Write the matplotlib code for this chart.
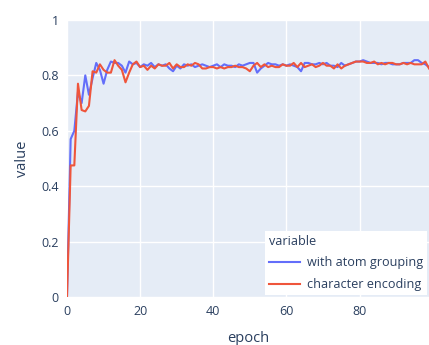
import numpy as np
import matplotlib.pyplot as plt

# Accuracy per epoch for the two encodings
epochs = np.arange(100)

with_atom_grouping = [
    0.0, 0.57, 0.60, 0.74, 0.70, 0.80, 0.73, 0.79, 0.845, 0.82,
    0.77, 0.82, 0.85, 0.845, 0.845, 0.835, 0.81, 0.85, 0.84, 0.845,
    0.83, 0.84, 0.835, 0.845, 0.83, 0.84, 0.835, 0.84, 0.825, 0.815,
    0.835, 0.825, 0.84, 0.835, 0.84, 0.83, 0.835, 0.84, 0.835, 0.83,
    0.835, 0.84, 0.83, 0.84, 0.835, 0.835, 0.83, 0.84, 0.835, 0.84,
    0.845, 0.845, 0.81, 0.825, 0.835, 0.845, 0.84, 0.84, 0.835, 0.84,
    0.835, 0.84, 0.835, 0.83, 0.815, 0.845, 0.845, 0.84, 0.84, 0.845,
    0.84, 0.845, 0.835, 0.835, 0.83, 0.845, 0.835, 0.84, 0.845, 0.85,
    0.85, 0.855, 0.85, 0.845, 0.845, 0.845, 0.84, 0.845, 0.845, 0.84,
    0.84, 0.84, 0.845, 0.845, 0.845, 0.855, 0.855, 0.845, 0.84, 0.83,
]

character_encoding = [
    0.0, 0.475, 0.475, 0.77, 0.675, 0.67, 0.69, 0.815, 0.81, 0.84,
    0.82, 0.81, 0.81, 0.855, 0.835, 0.82, 0.775, 0.81, 0.84, 0.85,
    0.83, 0.835, 0.82, 0.835, 0.825, 0.84, 0.835, 0.835, 0.845, 0.825,
    0.84, 0.83, 0.83, 0.84, 0.835, 0.845, 0.84, 0.825, 0.825, 0.83,
    0.83, 0.825, 0.83, 0.825, 0.83, 0.83, 0.835, 0.83, 0.83, 0.825,
    0.815, 0.835, 0.845, 0.83, 0.84, 0.83, 0.835, 0.83, 0.83, 0.84,
    0.835, 0.835, 0.845, 0.83, 0.845, 0.83, 0.835, 0.84, 0.83, 0.835,
    0.845, 0.835, 0.835, 0.825, 0.84, 0.825, 0.835, 0.84, 0.845, 0.85,
    0.85, 0.85, 0.845, 0.845, 0.85, 0.84, 0.845, 0.84, 0.845, 0.845,
    0.84, 0.84, 0.845, 0.84, 0.845, 0.84, 0.84, 0.84, 0.85, 0.825,
]

x_ticks = [0, 20, 40, 60, 80]
y_ticks = [0, 0.2, 0.4, 0.6, 0.8, 1]
y_tick_labels = ['0', '0.2', '0.4', '0.6', '0.8', '1']

text_color = '#2a3f5f'
plt.rcParams['font.family'] = ['Open Sans', 'DejaVu Sans']

fig = plt.figure(figsize=(4.29, 3.45), dpi=100)
ax = fig.add_axes([67 / 429, 1 - 297 / 345, 1 - 67 / 429, 277 / 345])
ax.set_facecolor('#E5ECF6')

ax.plot(epochs, with_atom_grouping, color='#636EFA', lw=1.5, label='with atom grouping')
ax.plot(epochs, character_encoding, color='#EF553B', lw=1.5, label='character encoding')

ax.set_xlim(0, 99)
ax.set_ylim(0, 1)
ax.set_xticks(x_ticks)
ax.set_yticks(y_ticks)
ax.set_yticklabels(y_tick_labels)
ax.grid(color='white', lw=1)
ax.set_axisbelow(True)
for s in ax.spines.values():
    s.set_visible(False)
ax.tick_params(length=0, labelsize=9, colors=text_color, pad=6)

ax.set_xlabel('epoch', fontsize=10.5, color=text_color, labelpad=9)
ax.set_ylabel('value', fontsize=10.5, color=text_color, labelpad=8)

leg = ax.legend(title='variable', loc='lower right', fontsize=9.1, title_fontsize=9.1,
                frameon=True, fancybox=False, framealpha=1, edgecolor='white',
                borderaxespad=0.15, handlelength=2.4, handletextpad=0.6,
                alignment='left', borderpad=0.3, labelspacing=0.7)
leg.get_frame().set_linewidth(0)
for t in leg.get_texts():
    t.set_color(text_color)
leg.get_title().set_color(text_color)

fig.savefig('out.png', dpi=100)
